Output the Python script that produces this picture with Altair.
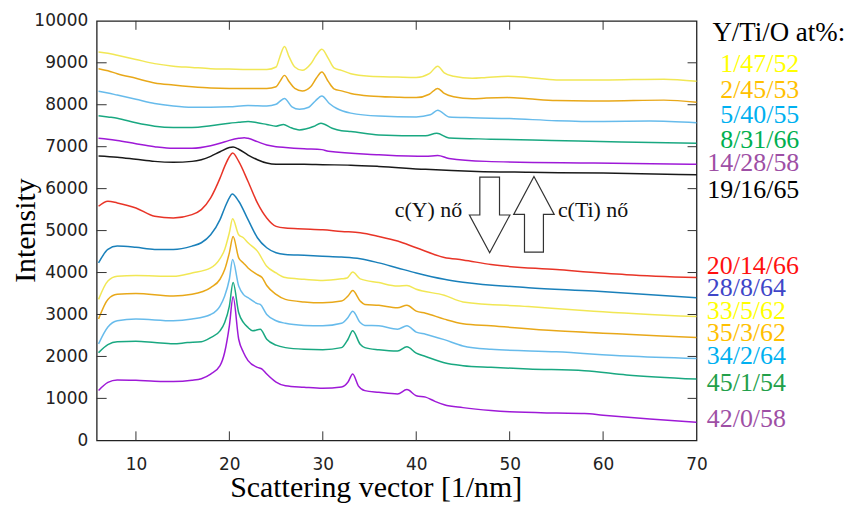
import altair as alt
import pandas as pd

# ---------------- data ----------------
series_names = ["42/0/58", "45/1/54", "34/2/64", "35/3/62", "33/5/62", "28/8/64", "20/14/66",
                "19/16/65", "14/28/58", "8/31/66", "5/40/55", "2/45/53", "1/47/52"]
line_colors = ["#9400d3", "#009e73", "#56b4e9", "#e69f00", "#f0e442", "#0072b2", "#e51e10",
               "#000000", "#9400d3", "#009e73", "#56b4e9", "#e69f00", "#f0e442"]

q_42_0_58 = [6, 7, 8, 10, 12, 14, 16, 17, 18, 19, 19.5, 20, 20.4, 21, 21.5, 22, 23, 23.5, 24, 25, 26, 28, 30, 32,
             32.7, 33.2, 33.8, 34.5, 36, 38, 39, 40, 41, 42, 43, 45, 48, 50, 55, 58, 60, 65, 70]
i_42_0_58 = [1190, 1380, 1440, 1430, 1410, 1400, 1430, 1470, 1580, 1780, 2100, 2730, 3420, 2410, 2100, 1900, 1740,
             1700, 1580, 1390, 1300, 1265, 1240, 1270, 1390, 1580, 1300, 1185, 1145, 1105, 1210, 1065, 1030, 930,
             850, 780, 710, 680, 650, 640, 600, 510, 430]

q_45_1_54 = [6, 7, 8, 10, 12, 14, 15.5, 17, 18, 19, 19.5, 20, 20.4, 21, 21.5, 22, 22.5, 23.3, 24, 25, 26, 28, 30,
             32, 32.7, 33.2, 34, 34.5, 36, 38, 39, 40, 41, 43, 45, 48, 52, 58, 62.5, 70]
i_45_1_54 = [2090, 2280, 2350, 2360, 2330, 2300, 2330, 2350, 2450, 2610, 2810, 3200, 3760, 3040, 2810, 2690, 2610,
             2650, 2410, 2270, 2210, 2170, 2160, 2210, 2410, 2610, 2290, 2210, 2160, 2130, 2230, 2080, 2000, 1850,
             1780, 1740, 1700, 1660, 1560, 1460]

q_34_2_64 = [6, 7, 8, 10, 14, 16, 18, 19, 19.5, 20, 20.35, 21, 21.5, 22, 23, 23.3, 24, 25, 26, 28, 30, 32, 32.7,
             33.2, 34, 34.5, 36, 38, 39, 40, 41, 43, 45, 48, 55, 62.5, 70]
i_34_2_64 = [2300, 2700, 2850, 2890, 2850, 2890, 3000, 3200, 3440, 3840, 4310, 3680, 3480, 3400, 3260, 3240, 3000,
             2850, 2790, 2740, 2730, 2790, 2930, 3080, 2810, 2740, 2730, 2650, 2730, 2580, 2530, 2400, 2250, 2170,
             2110, 2010, 1950]

q_35_3_62 = [6, 7, 8, 10, 14, 16, 18, 19, 19.5, 20, 20.4, 21, 21.5, 22, 23, 23.5, 24, 25, 26, 28, 30, 32, 32.7,
             33.2, 34, 34.5, 36, 38, 39, 40, 41, 43, 45, 48, 55, 62.5, 70]
i_35_3_62 = [2890, 3360, 3480, 3500, 3440, 3480, 3640, 3840, 4070, 4470, 4860, 4350, 4230, 4110, 3950, 3880, 3690,
             3480, 3360, 3300, 3280, 3320, 3440, 3570, 3320, 3240, 3220, 3160, 3220, 3080, 3030, 2890, 2780, 2730,
             2610, 2530, 2450]

q_33_5_62 = [6, 7, 8, 10, 14, 16, 18, 19, 19.5, 20, 20.35, 21, 21.5, 22, 23, 24, 25, 26, 28, 30, 32, 32.6, 33.2,
             34, 36, 38, 39, 40, 43, 45, 52, 59, 70]
i_33_5_62 = [3360, 3800, 3910, 3930, 3910, 3990, 4110, 4330, 4550, 4950, 5280, 4900, 4830, 4710, 4510, 4150, 3990,
             3880, 3840, 3810, 3850, 3870, 4010, 3850, 3760, 3680, 3690, 3600, 3460, 3300, 3190, 3080, 2950]

q_28_8_64 = [6, 7, 8, 10, 12, 14, 16, 17, 18, 19, 19.5, 20, 20.3, 21, 22, 23, 24, 25, 26, 28, 30, 32, 34, 36, 38,
             40, 43, 45, 52, 59, 70]
i_28_8_64 = [4230, 4550, 4630, 4600, 4550, 4550, 4630, 4710, 4900, 5260, 5540, 5780, 5870, 5700, 5260, 4830, 4590,
             4470, 4430, 4410, 4390, 4370, 4330, 4230, 4110, 3990, 3840, 3770, 3640, 3560, 3400]

q_20_14_66 = [6, 7, 8, 10, 12, 14, 16, 17, 18, 19, 19.5, 20, 20.35, 21, 22, 23, 24, 25, 26, 28, 30, 32, 34, 36,
              38, 40, 43, 45, 48, 55, 62.5, 70]
i_20_14_66 = [5580, 5700, 5660, 5540, 5340, 5300, 5380, 5500, 5780, 6250, 6530, 6760, 6850, 6650, 6170, 5660, 5300,
              5100, 5060, 5040, 5020, 4980, 4950, 4860, 4750, 4590, 4360, 4300, 4190, 4070, 3950, 3880]

q_19_16_65 = [6, 8, 10, 12, 14, 16, 17, 18, 19, 20, 20.4, 21, 22, 23, 24, 25, 28, 30, 33, 36, 41, 46.5, 52, 60, 70]
i_19_16_65 = [6780, 6750, 6700, 6650, 6630, 6650, 6690, 6770, 6880, 6980, 6990, 6940, 6800, 6690, 6610, 6580, 6580,
              6570, 6560, 6530, 6460, 6410, 6390, 6370, 6330]

q_14_28_58 = [6, 7, 8, 10, 12, 14, 16, 18, 19, 20, 21, 21.6, 22, 23, 24, 25, 26, 28, 29.9, 30.6, 36, 41, 42.3,
              43.5, 47.5, 59, 70]
i_14_28_58 = [7200, 7180, 7150, 7070, 7000, 6960, 6960, 7020, 7080, 7150, 7200, 7215, 7200, 7120, 7040, 7000, 6980,
              6950, 6930, 6890, 6810, 6770, 6790, 6720, 6650, 6610, 6580]

q_8_31_66 = [6, 7, 8, 10, 12, 14, 16, 18, 20, 21, 22, 23, 24, 25, 25.8, 26.5, 27.5, 29, 29.8, 31, 32, 33, 36, 41,
             42.2, 43.5, 48, 54.5, 62, 70]
i_8_31_66 = [7740, 7710, 7680, 7570, 7490, 7460, 7460, 7500, 7560, 7580, 7600, 7570, 7530, 7490, 7530, 7460, 7400,
             7480, 7560, 7440, 7380, 7360, 7280, 7260, 7320, 7210, 7180, 7150, 7110, 7080]

q_5_40_55 = [6, 7, 8, 10, 12, 14, 16, 18, 20, 22, 24, 25, 25.4, 25.9, 26.7, 27.5, 28.5, 29.2, 29.9, 30.7, 31.5, 33,
             36, 40, 41.5, 42.3, 43.5, 46, 50, 55, 60, 65, 70]
i_5_40_55 = [8320, 8280, 8230, 8130, 8030, 7970, 7940, 7940, 7950, 7980, 7970, 8010, 8080, 8150, 7950, 7890, 7940,
             8090, 8210, 8030, 7910, 7800, 7730, 7710, 7760, 7870, 7710, 7690, 7670, 7620, 7600, 7610, 7570]

q_top = [6, 7, 8, 10, 12, 14, 16, 18, 20, 22, 24, 25, 25.4, 25.9, 26.4, 27, 27.8, 28.7, 29.3, 29.9, 30.6, 31.2, 32,
         33, 35, 38, 40, 41.4, 42.3, 43, 44, 46, 47.5, 49.8, 52, 55, 60, 66.5, 70]
i_2_45_53 = [8860, 8810, 8740, 8630, 8520, 8470, 8430, 8400, 8390, 8390, 8390, 8430, 8550, 8700, 8550, 8390, 8330,
             8430, 8630, 8780, 8550, 8380, 8330, 8270, 8210, 8180, 8170, 8250, 8390, 8270, 8190, 8140, 8160, 8170,
             8140, 8100, 8090, 8110, 8060]
i_1_47_52 = [9260, 9230, 9180, 9080, 8980, 8920, 8890, 8860, 8850, 8840, 8840, 8900, 9140, 9390, 9140, 8900, 8820,
             8970, 9180, 9320, 9100, 8880, 8820, 8740, 8680, 8660, 8650, 8740, 8920, 8760, 8680, 8630, 8650, 8680,
             8650, 8590, 8590, 8610, 8560]

q_lists = [q_42_0_58, q_45_1_54, q_34_2_64, q_35_3_62, q_33_5_62, q_28_8_64, q_20_14_66, q_19_16_65, q_14_28_58,
           q_8_31_66, q_5_40_55, q_top, q_top]
i_lists = [i_42_0_58, i_45_1_54, i_34_2_64, i_35_3_62, i_33_5_62, i_28_8_64, i_20_14_66, i_19_16_65, i_14_28_58,
           i_8_31_66, i_5_40_55, i_2_45_53, i_1_47_52]

# labels on the right
upper_labels = ["1/47/52", "2/45/53", "5/40/55", "8/31/66", "14/28/58", "19/16/65"]
upper_label_y = [8967, 8349, 7755, 7161, 6615, 5974]
upper_label_colors = ["#FFFF00", "#FFC000", "#00B0F0", "#00B050", "#9E4FA5", "#000000"]
lower_labels = ["20/14/66", "28/8/64", "33/5/62", "35/3/62", "34/2/64", "45/1/54", "42/0/58"]
lower_label_y = [4145, 3622, 3076, 2553, 2007, 1366, 511]
lower_label_colors = ["#FF1010", "#3F46C8", "#FFFF00", "#FFC000", "#00B0F0", "#22A04A", "#9E4FA5"]
header_text = "Y/Ti/O at%:"

x_ticks = [10, 20, 30, 40, 50, 60, 70]
inner_x_ticks = [10, 20, 30, 40, 50, 60]
y_ticks = [0, 1000, 2000, 3000, 4000, 5000, 6000, 7000, 8000, 9000, 10000]
inner_y_ticks = [1000, 2000, 3000, 4000, 5000, 6000, 7000, 8000, 9000]

# ---------------- build ----------------
rows = []
for name, qs, vals in zip(series_names, q_lists, i_lists):
    assert len(qs) == len(vals), name
    for a, b in zip(qs, vals):
        rows.append({"series": name, "q": a, "I": b})
df = pd.DataFrame(rows)

W, H = 602, 421
X_DOM = [5.8, 70]
Y_DOM = [0, 10000]
xs = alt.Scale(domain=X_DOM, nice=False, zero=False)
ys = alt.Scale(domain=Y_DOM, nice=False, zero=False)
SERIF = "Liberation Serif"
SANS = "DejaVu Sans"

AX_X = alt.Axis(
    values=x_ticks, format="d", title="Scattering vector [1/nm]", titleFont=SERIF, titleFontSize=30,
    titleFontWeight="normal", titleColor="#000", titleX=280, titleY=56, titleBaseline="alphabetic",
    labelFont=SANS, labelFontSize=17, labelColor="#222", ticks=False, domain=False,
    grid=False, labelPadding=16, labelFlush=False)
AX_Y = alt.Axis(
    values=y_ticks, format="d", title="Intensity", titleFont=SERIF, titleFontSize=30, titleFontWeight="normal",
    titleColor="#000", titleX=-62, titleY=210, titleAngle=-90, titleBaseline="alphabetic",
    titleAlign="center", labelFont=SANS, labelFontSize=17, labelColor="#222", ticks=False,
    domain=False, grid=False, labelPadding=9)


def X(field):
    return alt.X(field, scale=xs, axis=AX_X, title="Scattering vector [1/nm]")


def Y(field):
    return alt.Y(field, scale=ys, axis=AX_Y, title="Intensity")


lines = alt.Chart(df).mark_line(strokeWidth=1.5, interpolate="monotone", opacity=0.9).encode(
    x=X("q:Q"),
    y=Y("I:Q"),
    color=alt.Color("series:N", scale=alt.Scale(domain=series_names, range=line_colors), legend=None),
    detail="series:N",
)

xt = pd.DataFrame({"t": inner_x_ticks})
yt = pd.DataFrame({"t": inner_y_ticks})
tick_style = dict(color="#333", strokeWidth=1)
ticks_bottom = alt.Chart(xt).mark_rule(**tick_style).encode(
    x=X("t:Q"), y=alt.value(H), y2=alt.value(H - 9))
ticks_top = alt.Chart(xt).mark_rule(**tick_style).encode(
    x=X("t:Q"), y=alt.value(0), y2=alt.value(9))
ticks_left = alt.Chart(yt).mark_rule(**tick_style).encode(
    y=Y("t:Q"), x=alt.value(0), x2=alt.value(10))
ticks_right = alt.Chart(yt).mark_rule(**tick_style).encode(
    y=Y("t:Q"), x=alt.value(W), x2=alt.value(W - 9))

up_df = pd.DataFrame({"label": upper_labels, "y": upper_label_y, "c": upper_label_colors, "x": [81.0] * 6})
lo_df = pd.DataFrame({"label": lower_labels, "y": lower_label_y, "c": lower_label_colors, "x": [71.1] * 7})
hd_df = pd.DataFrame({"label": [header_text], "y": [9702], "c": ["#000000"], "x": [71.7]})


def text_layer(d, align, size=26):
    return alt.Chart(d).mark_text(align=align, baseline="middle", font=SERIF, fontSize=size).encode(
        x=X("x:Q"), y=Y("y:Q"),
        text="label:N", color=alt.Color("c:N", scale=None))


labels_up = text_layer(up_df, "right")
labels_lo = text_layer(lo_df, "left")
header = text_layer(hd_df, "left", 27)

# arrows and annotations
arrow_down_path = "M-0.26,-1L0.26,-1L0.26,0L0.535,0L0,1L-0.535,0L-0.26,0Z"
arrow_up_path = "M0,-1L0.535,0L0.25,0L0.25,1L-0.25,1L-0.25,0L-0.535,0Z"
arr_down = pd.DataFrame({"x": [47.86], "y": [5372]})
arr_up = pd.DataFrame({"x": [52.6], "y": [5387]})
arrow_style = dict(filled=True, fill="white", stroke="#333", strokeWidth=1.2, size=5776, opacity=1,
                   fillOpacity=1, strokeOpacity=1)
a_down = alt.Chart(arr_down).mark_point(shape=arrow_down_path, **arrow_style).encode(
    x=X("x:Q"), y=Y("y:Q"))
a_up = alt.Chart(arr_up).mark_point(shape=arrow_up_path, **arrow_style).encode(
    x=X("x:Q"), y=Y("y:Q"))

ann_left = pd.DataFrame({"label": ["c(Y) nő"], "x": [44.93], "y": [5498]})
ann_right = pd.DataFrame({"label": ["c(Ti) nő"], "x": [55.16], "y": [5498]})
t_left = alt.Chart(ann_left).mark_text(align="right", baseline="middle", font=SERIF, fontSize=22,
                                       color="#111").encode(x=X("x:Q"), y=Y("y:Q"), text="label:N")
t_right = alt.Chart(ann_right).mark_text(align="left", baseline="middle", font=SERIF, fontSize=22,
                                         color="#111").encode(x=X("x:Q"), y=Y("y:Q"), text="label:N")

chart = alt.layer(
    lines, ticks_bottom, ticks_top, ticks_left, ticks_right,
    a_down, a_up, t_left, t_right, labels_up, labels_lo, header
).properties(
    width=W, height=H,
    autosize=alt.AutoSizeParams(type="none"),
    padding={"left": 89, "top": 12, "right": 150, "bottom": 62},
    background="white",
).configure_view(stroke="#222", strokeWidth=1.3)

chart.save("out.html", embed_options={"renderer": "svg", "actions": False})
